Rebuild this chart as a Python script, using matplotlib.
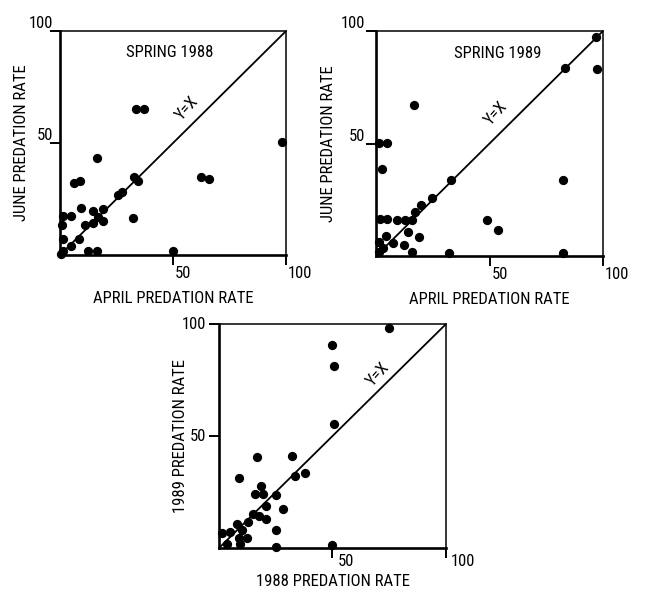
import numpy as np
import matplotlib
matplotlib.use('Agg')
from matplotlib import pyplot as plt
from matplotlib.transforms import ScaledTranslation

plt.rcParams['font.family'] = ['Roboto Condensed', 'DejaVu Sans']
plt.rcParams['font.size'] = 12

# spring 1988: april vs june predation rate
apr88 = [33.5, 37.2, 98.0, 16.2, 6.3, 8.8, 32.9, 34.6, 62.2, 65.9, 25.5, 27.3, 9.3, 14.5, 19.2,
         16.7, 19.2, 14.7, 11.1, 32.4, 1.5, 4.9, 1.0, 1.5, 8.5, 4.9, 1.5, 0.5, 12.5, 16.2, 49.9]
jun88 = [65.4, 65.4, 50.5, 43.5, 32.3, 32.9, 34.7, 33.2, 34.9, 33.9, 26.8, 28.3, 21.1, 19.6, 20.4,
         17.1, 15.3, 14.4, 13.4, 16.7, 17.4, 17.4, 13.4, 7.0, 7.0, 4.0, 1.9, 0.5, 1.9, 1.9, 1.9]

# spring 1989
apr89 = [97.0, 83.1, 97.4, 16.8, 1.5, 5.0, 2.8, 33.0, 82.4, 24.7, 19.8, 17.0, 1.8, 5.0, 9.4,
         12.8, 15.7, 48.8, 53.7, 14.0, 19.1, 4.2, 1.5, 2.9, 7.5, 12.2, 16.0, 32.0, 82.4, 1.5]
jun89 = [97.5, 83.7, 83.3, 67.3, 50.3, 50.3, 38.5, 34.0, 33.7, 25.8, 22.6, 19.5, 16.3, 16.3, 16.2,
         16.0, 16.0, 16.0, 11.5, 10.6, 8.4, 9.1, 6.2, 3.5, 5.6, 4.9, 1.9, 1.5, 1.5, 1.9]

# 1988 vs 1989 predation rate
rate88 = [75.0, 49.9, 50.8, 50.5, 16.6, 32.0, 8.8, 33.5, 37.9, 18.4, 15.8, 19.4, 25.0, 20.5, 28.0,
          15.1, 17.6, 20.8, 12.9, 8.1, 10.3, 4.7, 1.4, 8.9, 12.4, 3.7, 9.1, 25.2, 25.2, 49.9]
rate89 = [98.1, 90.6, 81.3, 55.3, 40.6, 41.2, 31.2, 32.2, 33.5, 27.5, 23.9, 23.9, 23.8, 18.8, 17.6,
          15.0, 14.2, 12.9, 11.6, 10.6, 8.1, 7.3, 6.9, 4.6, 4.5, 1.8, 1.8, 8.1, 0.5, 1.2]

ticks = [50, 100]
ticklabels = ['50', '100']

fig = plt.figure(figsize=(6.51, 5.94), dpi=100)


def panel(rect, x, y, xlabel, ylabel, title, title_pos, yx_pos, ylab_va, ypad, xpad, ylpad, xlpad, xshift):
    ax = fig.add_axes(rect)
    ax.plot([0, 100], [0, 100], color='black', lw=1.3)
    ax.scatter(x, y, s=32, color='black', clip_on=False, zorder=3)
    ax.set_xlim(0, 100)
    ax.set_ylim(0, 100)
    ax.set_xticks(ticks)
    ax.set_yticks(ticks)
    ax.set_xticklabels(ticklabels, ha='left')
    ax.set_yticklabels(ticklabels, va=ylab_va)
    ax.tick_params(direction='out', length=7, width=1.4)
    ax.tick_params(axis='y', pad=ypad)
    ax.tick_params(axis='x', pad=xpad)
    # nudge the x tick labels to the right of their ticks
    for t in ax.xaxis.get_major_ticks():
        t.label1.set_transform(t.label1.get_transform() +
                               ScaledTranslation(xshift / 72, 0, fig.dpi_scale_trans))
    for s in ['left', 'bottom']:
        ax.spines[s].set_linewidth(1.9)
    for s in ['top', 'right']:
        ax.spines[s].set_linewidth(1.1)
    ax.set_xlabel(xlabel, labelpad=xlpad)
    ax.set_ylabel(ylabel, labelpad=ylpad)
    if title:
        ax.text(title_pos[0], title_pos[1], title, ha='center', va='center')
    ax.text(yx_pos[0], yx_pos[1], 'Y=X', rotation=48, ha='center', va='center')
    return ax


panel([0.0922, 0.5707, 0.3472, 0.3771], apr88, jun88,
      'APRIL PREDATION RATE', 'JUNE PREDATION RATE', 'SPRING 1988', (48.7, 90.6), (56, 65.5),
      'bottom', -2, 1, 0, 7, 1.5)
panel([0.5776, 0.5690, 0.3487, 0.3788], apr89, jun89,
      'APRIL PREDATION RATE', 'JUNE PREDATION RATE', 'SPRING 1989', (53.5, 90.2), (53, 63.5),
      'bottom', 1, 1, 3, 7, 1.5)
panel([0.3364, 0.0774, 0.3487, 0.3771], rate88, rate89,
      '1988 PREDATION RATE', '1989 PREDATION RATE', None, None, (70, 77.5),
      'center', 2, -3, -4, 4, 3.5)

fig.savefig('out.png', dpi=100)
